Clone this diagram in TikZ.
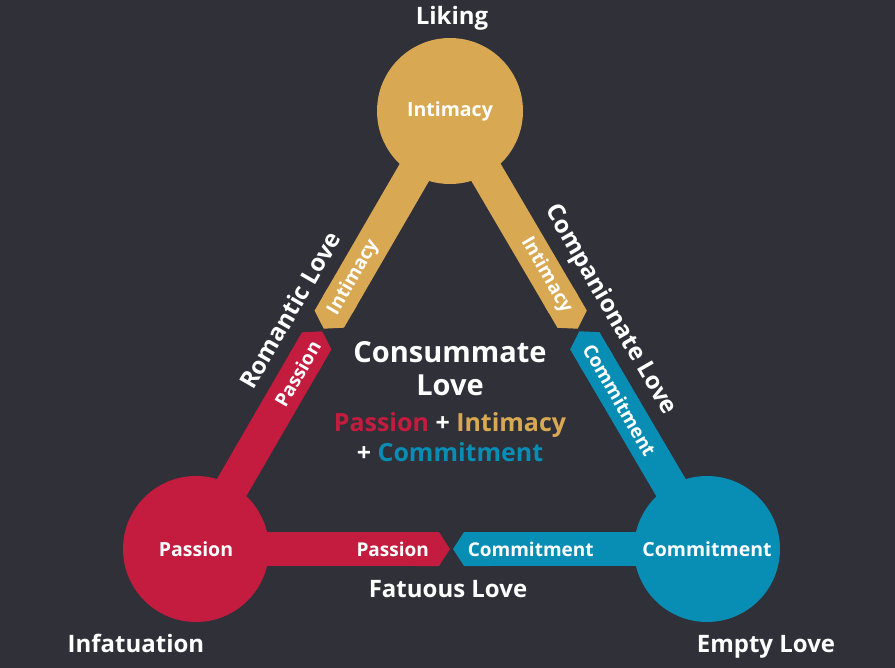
\documentclass[tikz,border=0pt]{standalone}
\usepackage{fontspec}
\setmainfont{Open Sans}
\usetikzlibrary{positioning,calc,arrows.meta}
\definecolor{bg}{HTML}{2F3038}
\definecolor{gold}{HTML}{D8A952}
\definecolor{crimson}{HTML}{C41C3F}
\definecolor{sea}{HTML}{088DB5}
\tikzset{circ/.style={circle,minimum size=146pt,inner sep=0pt,text=white,font=\bfseries\fontsize{19.5}{19.5}\selectfont}}

\begin{document}
\begin{tikzpicture}[x=1pt,y=-1pt,
    band/.style={line width=34pt,shorten >=1.5pt,-{Triangle Cap[cap angle=114]}},
    lbl/.style={text=white,inner sep=0pt,font=\bfseries\fontsize{19}{19}\selectfont},
    big/.style={text=white,inner sep=0pt,align=center,font=\bfseries\fontsize{24}{33}\selectfont}]
        \fill[bg] (0,0) rectangle (895,668);
        \coordinate (I) at (450,111);
        \coordinate (P) at (196,549);
        \coordinate (C) at (707,549);
        \coordinate (ml) at ($(I)!0.5!(P)$);
        \coordinate (mr) at ($(I)!0.5!(C)$);
        \coordinate (mb) at ($(P)!0.5!(C)$);
        % bands
        \draw[band,gold] (I) -- (ml) node[lbl,pos=0.76,rotate=60] {Intimacy};
        \draw[band,crimson] (P) -- (ml) node[lbl,pos=0.8,rotate=60] {Passion};
        \draw[band,gold] (I) -- (mr) node[lbl,pos=0.75,rotate=-60] {Intimacy};
        \draw[band,sea] (C) -- (mr) node[lbl,pos=0.68,rotate=-60] {Commitment};
        \draw[band,crimson] (P) -- (mb) node[lbl,pos=0.77] {Passion};
        \draw[band,sea] (C) -- (mb) node[lbl,pos=0.69] {Commitment};
        % circles
        \node (int) at (I) [circ,fill=gold] {Intimacy};
        \node (pas) at (P) [circ,fill=crimson] {Passion};
        \node (com) at (C) [circ,fill=sea] {Commitment};
        % love types
        \node (liking) at (452,25) [big,anchor=base] {Liking};
        \node (inf) at (136,652) [big,anchor=base] {Infatuation};
        \node (empty) at (766,652) [big,anchor=base] {Empty Love};
        \node (fat) at (448,597) [big,anchor=base] {Fatuous Love};
        \node (rom) at (290,310) [big,rotate=60] {Romantic Love};
        \node (compn) at (610,310) [big,rotate=-60] {Companionate Love};
        \node (cons) at (450,369) [big,font=\bfseries\fontsize{29}{33}\selectfont] {Consummate\\Love};
        \node (sum) at (450,437) [big,font=\bfseries\fontsize{25}{30}\selectfont]
            {\textcolor{crimson}{Passion} + \textcolor{gold}{Intimacy}\\+ \textcolor{sea}{Commitment}};
    \end{tikzpicture}
\end{document}
